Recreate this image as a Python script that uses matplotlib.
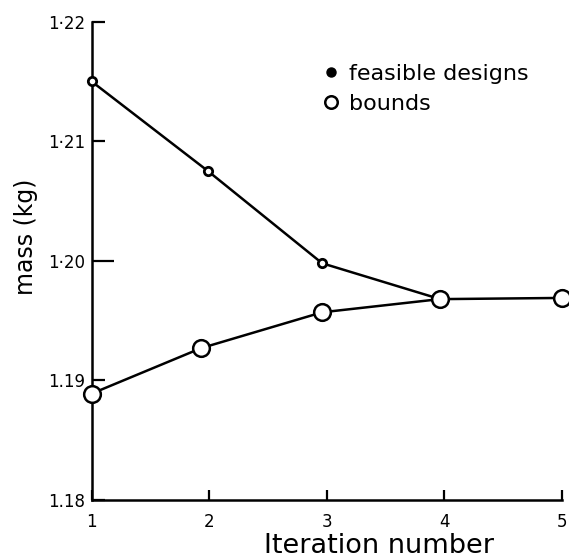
import matplotlib.pyplot as plt
from matplotlib.lines import Line2D

# Werte
iterations = [1, 2, 3, 4, 5]
feasible_x = [1, 1.99, 2.96, 3.93]
feasible_mass = [1.2150, 1.2075, 1.1998, 1.1969]
bounds_x = [1, 1.93, 2.96, 3.96, 5]
bounds_mass = [1.1889, 1.1927, 1.1957, 1.1968, 1.1969]
yticks = [1.18, 1.19, 1.20, 1.21, 1.22]
ytick_labels = ['1.18', '1.19', '1·20', '1·21', '1·22']

plt.rcParams['font.family'] = ['DejaVu Sans']

fig = plt.figure(figsize=(5.69, 5.58), dpi=100)
ax = fig.add_axes([0.1612, 0.1039, 0.8265, 0.8572])

ax.plot(feasible_x, feasible_mass, 'k-', lw=1.8, marker='o', ms=6,
        mfc='white', mec='black', mew=2.0, clip_on=False, zorder=3)
ax.plot(bounds_x, bounds_mass, 'k-', lw=1.8, marker='o', ms=12,
        mfc='white', mec='black', mew=1.8, clip_on=False, zorder=3)

ax.set_xlim(1, 5)
ax.set_ylim(1.18, 1.22)
ax.set_xticks(iterations)
ax.set_yticks(yticks)
ax.set_yticklabels(ytick_labels)
for s in ['top', 'right']:
    ax.spines[s].set_visible(False)
for s in ['left', 'bottom']:
    ax.spines[s].set_linewidth(1.8)
ax.tick_params(direction='in', width=1.6, labelsize=12)
ax.tick_params(axis='y', length=9, pad=5)
ax.tick_params(axis='x', length=7, pad=9)
# der Strich bei 1·20 ist laenger
ax.yaxis.get_major_ticks()[2].tick1line.set_markersize(16)

ax.set_xlabel('Iteration number', fontsize=19.5, va='top')
ax.xaxis.set_label_coords(0.61, -0.069)
ax.set_ylabel('mass (kg)', fontsize=17)
ax.yaxis.set_label_coords(-0.115, 0.55)

handles = [
    Line2D([], [], ls='none', marker='o', ms=6.5, mfc='black', mec='black'),
    Line2D([], [], ls='none', marker='o', ms=9, mfc='white', mec='black', mew=1.8),
]
fig.legend(handles, ['feasible designs', 'bounds'], loc='upper left',
           bbox_to_anchor=(0.570, 0.885), frameon=False, fontsize=16,
           borderpad=0, borderaxespad=0, handletextpad=0.5,
           labelspacing=0.45, handlelength=0.6)

fig.savefig('out.png', dpi=100)
